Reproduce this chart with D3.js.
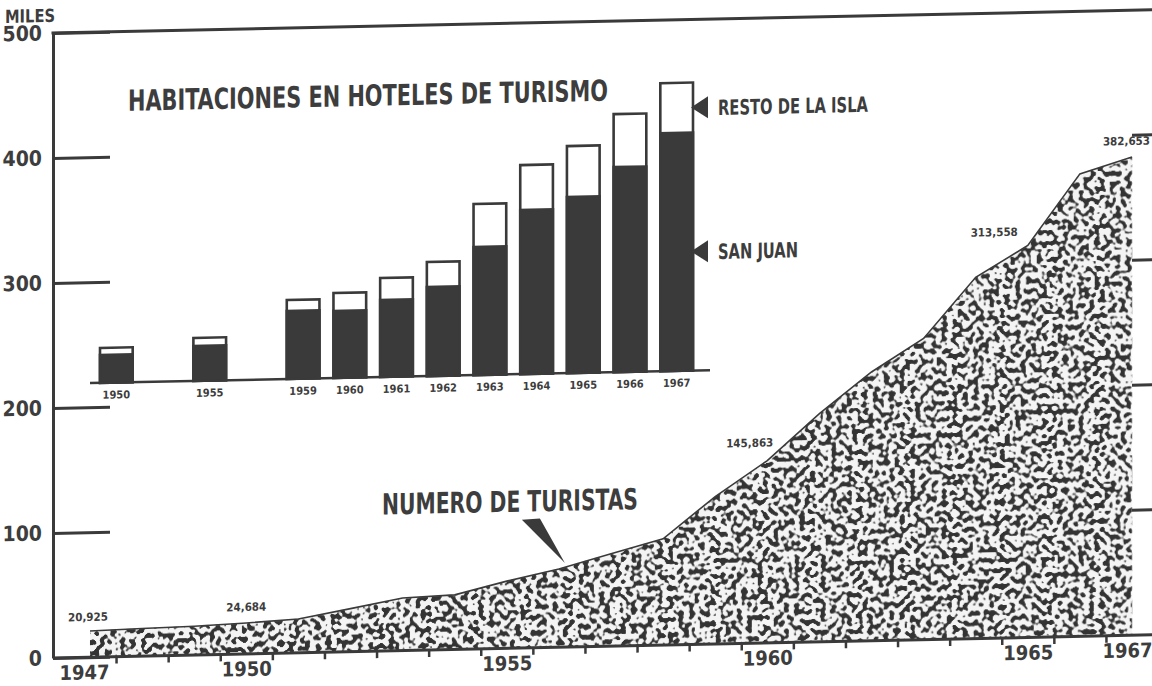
<!DOCTYPE html>
<html>
<head>
<meta charset="utf-8">
<script src="https://cdnjs.cloudflare.com/ajax/libs/d3/7.8.5/d3.min.js"></script>
<style>
  body { margin: 0; background: #fff; }
  svg { display: block; background: #fff; }
  text {
    font-family: "Liberation Sans Narrow", "DejaVu Sans Condensed", "Roboto Condensed", sans-serif;
    font-weight: bold;
    fill: #3d3d3d;
  }
</style>
</head>
<body>
<div id="chart"></div>
<script>
/* ---------------------------------------------
   Datos
--------------------------------------------- */
// numero de turistas (miles)
const turYears = [1947, 1948, 1949, 1950, 1951, 1952, 1953, 1954, 1955, 1956, 1957,
                  1958, 1959, 1960, 1961, 1962, 1963, 1964, 1965, 1966, 1967];
const turistas = [20.925, 22.0, 23.0, 24.684, 27.0, 34.4, 42.0, 43.7, 53.8, 62.6, 74.0,
                  85.0, 118.0, 145.863, 182.6, 215.0, 241.0, 289.0, 313.558, 370.0, 382.653];
// years that carry a printed value
const labeledYears = [1947, 1950, 1960, 1965, 1967];

// habitaciones en hoteles de turismo
const hotelYears = ["1950", "1955", "1959", "1960", "1961", "1962", "1963", "1964", "1965", "1966", "1967"];
const sanJuan   = [700, 875, 1700, 1675, 1925, 2225, 3200, 4100, 4400, 5125, 5950];
const restoIsla = [175, 200, 275, 450, 550, 625, 1075, 1125, 1275, 1325, 1250];

// axes
const yTicks = [0, 100, 200, 300, 400, 500];
const xLabelYears = [1947, 1950, 1955, 1960, 1965, 1967];

/* ---------------------------------------------
   Svg + scales
--------------------------------------------- */
const width = 1152, height = 686;
const ink = "#3a3a3a";

const svg = d3.select("#chart").append("svg")
    .attr("width", width).attr("height", height);

// the printed page sits a little crooked
const page = svg.append("g").attr("transform", "skewY(-1.2)");

const axisLeftX = 53, rightEdge = 1152;

const x = d3.scaleLinear().domain([1947, 1967]).range([90, 1132]);
const y = d3.scaleLinear().domain([0, 500]).range([659, 34]);

// stipple texture for the area
const defs = svg.append("defs");
const filt = defs.append("filter").attr("id", "grano")
    .attr("x", 0).attr("y", 0).attr("width", 1).attr("height", 1)
    .attr("color-interpolation-filters", "sRGB");
filt.append("feTurbulence").attr("type", "fractalNoise")
    .attr("baseFrequency", "0.19").attr("numOctaves", 1).attr("seed", 5).attr("result", "noise");
filt.append("feColorMatrix").attr("in", "noise").attr("type", "matrix")
    .attr("values", "0 0 0 0 0.2  0 0 0 0 0.2  0 0 0 0 0.2  18 0 0 0 -9.0")
    .attr("result", "dots");
filt.append("feFlood").attr("flood-color", "#f4f4f4").attr("result", "bg");
filt.append("feComposite").attr("in", "dots").attr("in2", "bg").attr("operator", "over").attr("result", "tex");
filt.append("feComposite").attr("in", "tex").attr("in2", "SourceGraphic").attr("operator", "in");

/* ---------------------------------------------
   Area: numero de turistas
--------------------------------------------- */
const turData = turYears.map((yr, i) => ({ year: yr, value: turistas[i] }));

const area = d3.area()
    .x(d => x(d.year))
    .y0(y(0))
    .y1(d => y(d.value));

page.append("path")
    .datum(turData)
    .attr("d", area)
    .attr("fill", "#000")
    .attr("filter", "url(#grano)");

page.append("path")
    .datum(turData)
    .attr("d", d3.line().x(d => x(d.year)).y(d => y(d.value)))
    .attr("fill", "none")
    .attr("stroke", ink)
    .attr("stroke-width", 1.6);

// value labels
const fmt = d3.format(",");
const labelPlace = {
    1947: { anchor: "middle", dx: -2, dy: -10 },
    1950: { anchor: "middle", dx: 0, dy: -12 },
    1960: { anchor: "end", dx: 6, dy: -14 },
    1965: { anchor: "end", dx: -10, dy: -10 },
    1967: { anchor: "end", dx: 18, dy: -12 }
};
page.selectAll(".vlabel")
    .data(turData.filter(d => labeledYears.includes(d.year)))
    .enter()
    .append("text")
    .attr("class", "vlabel")
    .attr("x", d => x(d.year) + labelPlace[d.year].dx)
    .attr("y", d => y(d.value) + labelPlace[d.year].dy)
    .attr("text-anchor", d => labelPlace[d.year].anchor)
    .attr("font-size", 11.5)
    .text(d => fmt(Math.round(d.value * 1000)));

/* ---------------------------------------------
   Axes
--------------------------------------------- */
const yAxis = d3.axisLeft(y).tickValues(yTicks).tickSize(-57).tickSizeOuter(0).tickPadding(11);
const yG = page.append("g").attr("transform", `translate(${axisLeftX},0)`).call(yAxis);
yG.select(".domain").attr("stroke", ink).attr("stroke-width", 3);
yG.selectAll(".tick line").attr("stroke", ink).attr("stroke-width", 3);
yG.selectAll(".tick text").attr("font-size", 21).attr("fill", "#3d3d3d")
    .style("font-family", null);

// baseline + top line
page.append("line")
    .attr("x1", axisLeftX).attr("x2", rightEdge)
    .attr("y1", y(0)).attr("y2", y(0))
    .attr("stroke", ink).attr("stroke-width", 3);
page.append("line")
    .attr("x1", axisLeftX - 1.5).attr("x2", rightEdge)
    .attr("y1", y(500)).attr("y2", y(500))
    .attr("stroke", ink).attr("stroke-width", 3);

// right side ticks
page.selectAll(".rtick")
    .data(yTicks.filter(v => v > 0 && v < 500))
    .enter()
    .append("line")
    .attr("x1", 1132).attr("x2", rightEdge)
    .attr("y1", d => y(d)).attr("y2", d => y(d))
    .attr("stroke", ink).attr("stroke-width", 3);

// year ticks between years
const xTicks = d3.axisBottom(x)
    .tickValues(turYears.slice(0, -1).map(d => d + 0.5))
    .tickSize(7).tickFormat("");
const xtG = page.append("g").attr("transform", `translate(0,${y(0)})`).call(xTicks);
xtG.select(".domain").remove();
xtG.selectAll(".tick line").attr("stroke", ink).attr("stroke-width", 2.5);

const xLabels = d3.axisBottom(x).tickValues(xLabelYears).tickSize(0).tickPadding(8).tickFormat(d3.format("d"));
const xlG = page.append("g").attr("transform", `translate(0,${y(0)})`).call(xLabels);
xlG.select(".domain").remove();
xlG.selectAll(".tick text").attr("font-size", 20).attr("fill", "#3d3d3d")
    .style("font-family", null)
    .attr("dx", d => d === 1947 ? -6 : (d === 1967 ? -5 : 0));

page.append("text")
    .attr("x", 5).attr("y", 23)
    .attr("font-size", 18)
    .attr("textLength", 50).attr("lengthAdjust", "spacingAndGlyphs")
    .text("MILES");

/* ---------------------------------------------
   Bars: habitaciones en hoteles
--------------------------------------------- */
// two empty slots keep the gaps before 1955 and 1959
const slots = [];
hotelYears.forEach((yr, i) => {
    slots.push(yr);
    if (i < 2) slots.push("gap" + i);
});

const bx = d3.scaleBand().domain(slots).range([100, 693]).paddingInner(0.3).paddingOuter(0);
const by = d3.scaleLinear().domain([0, 7200]).range([385, 97]);

const hotelData = hotelYears.map((yr, i) => ({ year: yr, sj: sanJuan[i], resto: restoIsla[i] }));

page.append("line")
    .attr("x1", 90).attr("x2", 710)
    .attr("y1", by(0)).attr("y2", by(0))
    .attr("stroke", ink).attr("stroke-width", 2.5);

const barG = page.selectAll(".bar")
    .data(hotelData)
    .enter()
    .append("g")
    .attr("class", "bar");

barG.append("rect")
    .attr("x", d => bx(d.year))
    .attr("y", d => by(d.sj + d.resto))
    .attr("width", bx.bandwidth())
    .attr("height", d => by(0) - by(d.sj + d.resto))
    .attr("fill", "#fff")
    .attr("stroke", ink)
    .attr("stroke-width", 2.6);

barG.append("rect")
    .attr("x", d => bx(d.year))
    .attr("y", d => by(d.sj))
    .attr("width", bx.bandwidth())
    .attr("height", d => by(0) - by(d.sj))
    .attr("fill", ink)
    .attr("stroke", ink)
    .attr("stroke-width", 2.6);

barG.append("text")
    .attr("x", d => bx(d.year) + bx.bandwidth() / 2)
    .attr("y", by(0) + 16)
    .attr("text-anchor", "middle")
    .attr("font-size", 11)
    .text(d => d.year);

page.append("text")
    .attr("x", 128).attr("y", 113.5)
    .attr("font-size", 29)
    .attr("textLength", 480).attr("lengthAdjust", "spacingAndGlyphs")
    .text("HABITACIONES EN HOTELES DE TURISMO");

// legend arrows next to the last bar
const last = hotelData[hotelData.length - 1];
const tipX = bx(last.year) + bx.bandwidth() - 2;
const legend = [
    { label: "RESTO DE LA ISLA", mid: by(last.sj + last.resto / 2), len: 150 },
    { label: "SAN JUAN", mid: by(last.sj / 2), len: 80 }
];
legend.forEach(l => {
    page.append("path")
        .attr("d", `M${tipX},${l.mid} L${tipX + 17},${l.mid - 11} L${tipX + 17},${l.mid + 11} Z`)
        .attr("fill", ink);
    page.append("text")
        .attr("x", tipX + 27).attr("y", l.mid + 8)
        .attr("font-size", 21)
        .attr("textLength", l.len).attr("lengthAdjust", "spacingAndGlyphs")
        .text(l.label);
});

/* ---------------------------------------------
   Label for the area
--------------------------------------------- */
page.append("text")
    .attr("x", 382).attr("y", 522.5)
    .attr("font-size", 29)
    .attr("textLength", 256).attr("lengthAdjust", "spacingAndGlyphs")
    .text("NUMERO DE TURISTAS");

const tip = turData.find(d => d.year === 1956);
const tx = x(tip.year) + 6, ty = y(tip.value) - 6;
page.append("path")
    .attr("d", `M${tx},${ty} L${tx - 43},${ty - 44} L${tx - 25},${ty - 45} Z`)
    .attr("fill", ink);
</script>
</body>
</html>
